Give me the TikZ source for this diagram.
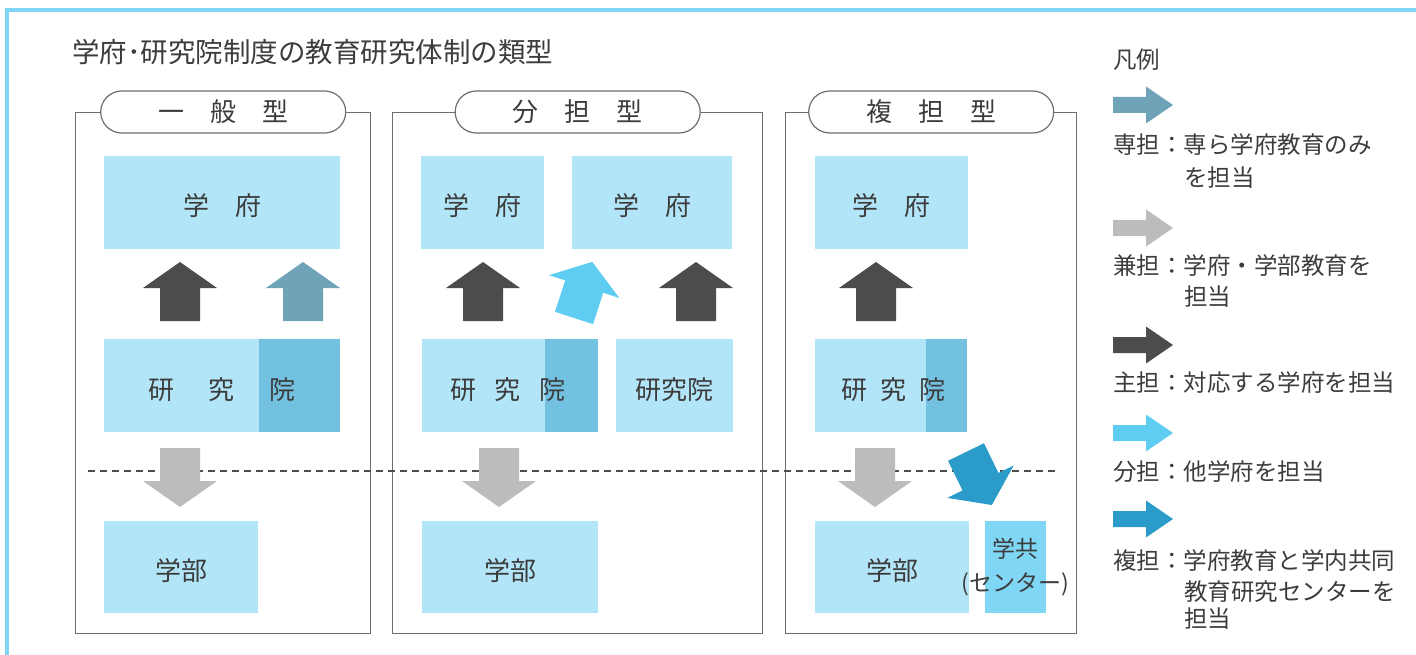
\documentclass[tikz,border=0pt]{standalone}
\usepackage{fontspec}
\setmainfont{Noto Sans CJK JP}
\usepackage{tikz}
\usetikzlibrary{positioning}

\definecolor{boxblue}{HTML}{B3E5F8}
\definecolor{boxdeep}{HTML}{72C1E0}
\definecolor{centrebox}{HTML}{7FD6F5}
\definecolor{frameblue}{HTML}{80D4F5}
\definecolor{darkarrow}{HTML}{4D4B4C}
\definecolor{steelarrow}{HTML}{6EA3B8}
\definecolor{grayarrow}{HTML}{BDBCBD}
\definecolor{lightarrow}{HTML}{5FCDF2}
\definecolor{deeparrow}{HTML}{2B9CCA}
\definecolor{linegray}{HTML}{6E6E6E}
\definecolor{inkgray}{HTML}{3C3C3C}

\tikzset{
  box/.style={fill=boxblue, inner sep=0pt, outer sep=0pt, anchor=north west, text height=30pt, text depth=3pt},
  boxtext/.style={text height=30pt, text depth=3pt},
  panel/.style={draw=linegray, line width=1.4pt, inner sep=0pt, anchor=north west, minimum height=521pt},
  pill/.style={draw=linegray, line width=1.2pt, fill=white, rounded corners=21pt, inner sep=0pt, minimum width=245pt, minimum height=42pt},
  keytext/.style={anchor=west, inner sep=0pt, font=\fontsize{23.5}{28}\selectfont},
  bigarrow/.pic={\fill[pic actions] (-20,0) -- (-20,-33) -- (-37,-33) -- (0,-59) -- (37,-33) -- (20,-33) -- (20,0) -- cycle;},
  keyarrow/.pic={\fill[pic actions] (0,-8) -- (33,-8) -- (33,-18.5) -- (60,0) -- (33,18.5) -- (33,8) -- (0,8) -- cycle;}
}

\begin{document}
\begin{tikzpicture}[x=1pt, y=-1pt, font=\fontsize{26}{31}\selectfont, text=inkgray]
\useasboundingbox (0,0) rectangle (1416,655);
% frame
\draw[frameblue, line width=4pt] (7,655) -- (7,10) -- (1416,10);
\node[anchor=west, inner sep=0pt, font=\fontsize{27.5}{32}\selectfont] (title) at (72,52) {学府･研究院制度の教育研究体制の類型};

% panels
\node[panel, minimum width=295pt] (p1) at (75,112) {};
\node[panel, minimum width=370pt] (p2) at (392,112) {};
\node[panel, minimum width=291pt] (p3) at (785,112) {};
\node[pill] (t1) at (p1.north) {一　般　型};
\node[pill] (t2) at (p2.north) {分　担　型};
\node[pill] (t3) at (p3.north) {複　担　型};

\draw[linegray!70!black, line width=1.6pt, dash pattern=on 7pt off 5pt] (88,471) -- (1055,471);

% 一般型
\node[box, minimum width=236pt, minimum height=93pt] (g1) at (104,156) {学　府};
\node[box, minimum width=236pt, minimum height=93pt] (r1) at (104,339) {};
\fill[boxdeep] (259,339) rectangle (r1.south east);
\node[boxtext] at (r1.center) {研\hspace{35pt}究\hspace{35pt}院};
\node[box, minimum width=154pt, minimum height=92pt] (b1) at (104,521) {学部};
\pic[fill=darkarrow] at (180,321) {bigarrow};
\pic[fill=steelarrow] at (303,321) {bigarrow};
\pic[fill=grayarrow, rotate=180] at (180,448) {bigarrow};

% 分担型
\node[box, minimum width=123pt, minimum height=93pt] (g2) at (421,156) {学　府};
\node[box, minimum width=160pt, minimum height=93pt] (g3) at (572,156) {学　府};
\node[box, minimum width=176pt, minimum height=93pt] (r2) at (422,339) {};
\fill[boxdeep] (545,339) rectangle (r2.south east);
\node[boxtext] at ([xshift=-2pt]r2.center) {研\hspace{19pt}究\hspace{19pt}院};
\node[box, minimum width=117pt, minimum height=93pt] (r3) at (616,339) {研究院};
\node[box, minimum width=176pt, minimum height=92pt] (b2) at (422,521) {学部};
\pic[fill=darkarrow] at (483,321) {bigarrow};
\pic[fill=lightarrow, rotate=-18] at (574,318) {bigarrow};
\pic[fill=darkarrow] at (696,321) {bigarrow};
\pic[fill=grayarrow, rotate=180] at (499,448) {bigarrow};

% 複担型
\node[box, minimum width=153pt, minimum height=93pt] (g4) at (815,156) {学　府};
\node[box, minimum width=152pt, minimum height=93pt] (r4) at (815,339) {};
\fill[boxdeep] (926,339) rectangle (r4.south east);
\node[boxtext] at ([xshift=2pt]r4.center) {研\hspace{13pt}究\hspace{13pt}院};
\node[box, minimum width=154pt, minimum height=92pt] (b3) at (815,521) {学部};
\node[box, fill=centrebox, minimum width=61pt, minimum height=92pt] (c1) at (985,521) {};
\node[align=center, font=\fontsize{23}{34}\selectfont] at (c1) {学共\\(センター)};
\pic[fill=darkarrow] at (876,321) {bigarrow};
\pic[fill=grayarrow, rotate=180] at (875,448) {bigarrow};
\pic[fill=deeparrow, rotate=206] at (966,452) {bigarrow};

% 凡例
\node[keytext] (k0) at (1113,60) {凡例};
\pic[fill=steelarrow] at (1113,105) {keyarrow};
\node[keytext] (k1) at (1113,145) {専担：専ら学府教育のみ};
\node[keytext] at (1184,178) {を担当};
\pic[fill=grayarrow] at (1113,228) {keyarrow};
\node[keytext] (k2) at (1113,266) {兼担：学府・学部教育を};
\node[keytext] at (1184,297) {担当};
\pic[fill=darkarrow] at (1113,345) {keyarrow};
\node[keytext] (k3) at (1113,383) {主担：対応する学府を担当};
\pic[fill=lightarrow] at (1113,433) {keyarrow};
\node[keytext] (k4) at (1113,472) {分担：他学府を担当};
\pic[fill=deeparrow] at (1113,519) {keyarrow};
\node[keytext] (k5) at (1113,561) {複担：学府教育と学内共同};
\node[keytext] at (1184,592) {教育研究センターを};
\node[keytext] at (1184,619) {担当};
\end{tikzpicture}
\end{document}
